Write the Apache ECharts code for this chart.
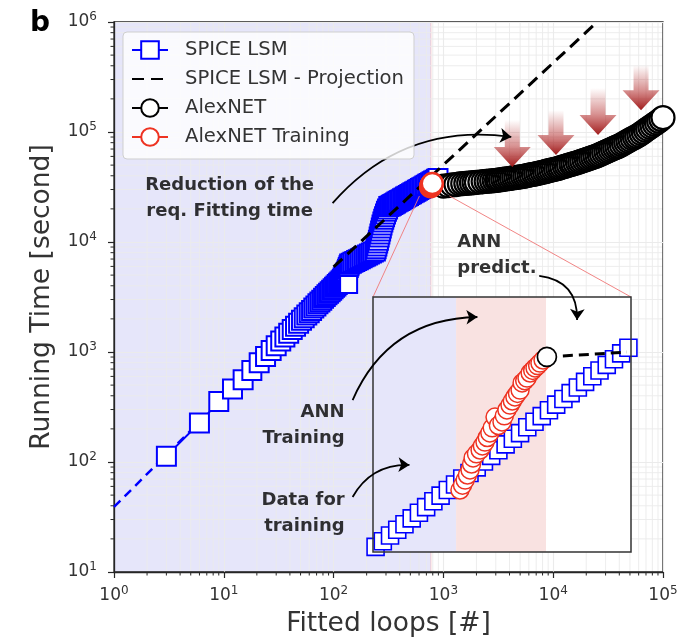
<!DOCTYPE html>
<html>
<head>
<meta charset="utf-8">
<script src="https://cdn.jsdelivr.net/npm/echarts@6/dist/echarts.min.js"></script>
<style>
  html, body { margin: 0; padding: 0; background: #ffffff; }
  #chart { width: 692px; height: 644px; }
</style>
</head>
<body>
<div id="chart"></div>
<script>
// ---------- axis ticks ----------
const xDecades = [1, 10, 100, 1000, 10000, 100000];
const yDecades = [10, 100, 1000, 10000, 100000, 1000000];
const minorSteps = [2, 3, 4, 5, 6, 7, 8, 9];

// ---------- SPICE LSM fitting runs (fitted loops, seconds) ----------
const spiceX = [3, 6, 9, 12, 15, 18, 21, 24, 27, 30, 33, 36, 39, 42, 45, 48, 51, 54, 57, 60,
  63, 66, 69, 72, 75, 78, 81, 84, 87, 90, 93, 96, 99, 102, 105, 108, 111, 114, 117, 120,
  122, 124, 126, 128, 130, 132, 134, 136, 138, 140,
  145, 150, 156, 162, 168, 175, 182, 189, 196, 204, 212, 221, 230, 240,
  244, 248, 252, 256, 260, 264, 268, 272, 276, 281, 286, 291, 297, 303, 310, 318,
  328, 337, 346, 356, 366, 377, 388, 400, 412, 425, 438, 452, 466, 481, 496, 512, 528,
  545, 562, 580, 598, 617, 636, 656, 677, 698, 720, 742, 765, 789, 814, 840, 866, 893];
const spiceY = [113, 226, 355, 460, 560, 680, 800, 910, 1030, 1140, 1260, 1370, 1480, 1600, 1710, 1830, 1940, 2050, 2170, 2280,
  2390, 2510, 2620, 2740, 2850, 2960, 3080, 3190, 3310, 3420, 3530, 3650, 3760, 3880, 3990, 4100, 4220, 4330, 4450, 4560,
  4700, 4800, 4950, 5100, 5270, 5450, 5650, 5850, 6070, 6300,
  6410, 6530, 6650, 6780, 6910, 7060, 7200, 7340, 7470, 7620, 7770, 7940, 8100, 8300,
  8700, 9200, 9800, 10400, 11100, 11800, 12600, 13400, 14300, 15200, 16100, 17000, 18000, 19000, 20000, 21000,
  21300, 21630, 21960, 22320, 22680, 23070, 23450, 23870, 24270, 24710, 25140, 25600, 26040, 26520, 27000, 27490, 27980,
  28490, 29000, 29530, 30050, 30590, 31130, 31680, 32250, 32830, 33420, 34000, 34600, 35220, 35850, 36500, 37150, 37800];
// low-range trend of the SPICE runs
const spiceLeadX = [1, 6];
const spiceLeadY = [39, 232];
// a repeated run finishing after the main sweep
const spiceLateX = [137];
const spiceLateY = [4100];

// ---------- SPICE LSM projection ----------
const projX = [100, 25100];
const projY = [5930, 1000000];

// ---------- AlexNET prediction ----------
const alexX = [1000, 1100, 1200, 1300, 1400, 1500, 1600, 1700, 1800, 1900, 2000, 2150, 2300, 2450, 2600, 2750, 2900, 3050,
  3160, 3310, 3470, 3630, 3800, 3980, 4170, 4370, 4570, 4790,
  5010, 5250, 5500, 5750, 6030, 6310, 6610, 6920, 7240, 7590,
  7940, 8320, 8710, 9120, 9550, 10000, 10500, 11000, 11500, 12000,
  12600, 13200, 13800, 14500, 15100, 15800, 16600, 17400, 18200, 19100,
  20000, 20900, 21900, 22900, 24000, 25100, 26300, 27500, 28800, 30200,
  31600, 33100, 34700, 36300, 38000, 39800, 41700, 43700, 45700, 47900,
  50100, 52500, 55000, 57500, 60300, 63100, 66100, 69200, 72400, 75900,
  79400, 83200, 87100, 91200, 95500, 100000];
const alexY = [32200, 32600, 33000, 33300, 33700, 33900, 34100, 34300, 34500, 34700, 34800, 35100, 35400, 35600, 35800, 36000, 36200, 36400,
  36600, 36800, 37100, 37300, 37600, 37800, 38100, 38400, 38600, 38900,
  39100, 39400, 39800, 40200, 40600, 40900, 41300, 41700, 42100, 42500,
  43000, 43500, 44000, 44500, 45000, 45500, 46000, 46600, 47200, 47900,
  48500, 49200, 49900, 50600, 51300, 52000, 52700, 53500, 54300, 55200,
  56100, 57000, 57900, 58900, 59800, 60800, 61900, 63200, 64600, 65900,
  67300, 68700, 70200, 71600, 73100, 74600, 76600, 78500, 80500, 82600,
  84700, 86900, 89100, 91400, 93800, 96800, 100000, 103300, 106700, 110200,
  113800, 117500, 121300, 125300, 130000, 134900];

// ---------- AlexNET training runs ----------
const trainX = [764, 768, 772, 776, 780, 784, 788, 792];
const trainY = [31800, 32100, 32400, 32700, 33000, 33300, 33600, 34000];

// ---------- shaded range of data used for training ----------
const trainingSpan = [1, 770];

// ---------- detail panel (relative units 0-100) ----------
const insetSpanEdges = [0, 32.2, 67.1, 100];
const insetSpanColors = ['#e6e6fa', '#f9e2e1', '#ffffff'];
const insetSpiceX = [1, 3.8, 6.6, 9.4, 12.2, 15, 17.8, 20.6, 23.4, 26.2, 29, 31.8, 34.6, 37.4, 40.2, 43, 45.8, 48.6,
  51.4, 54.2, 57, 59.8, 62.6, 65.4, 68.2, 71, 73.8, 76.6, 79.4, 82.2, 85, 87.8, 90.6, 93.4, 96.2, 99];
const insetSpiceY = [2.0, 4.2, 6.5, 8.7, 10.9, 13.2, 15.4, 17.6, 19.9, 22.1, 24.3, 26.5, 28.8, 31.0, 33.2, 35.5, 37.7, 39.9,
  42.2, 44.4, 46.6, 48.9, 51.1, 53.3, 55.6, 57.8, 60.0, 62.3, 64.5, 66.7, 68.9, 71.2, 73.4, 75.6, 77.9, 80.1];
const insetTrainX = [33.7, 34.7, 35.7, 36.6, 37.6, 38.2, 38.8, 40.1, 41.5, 42.4, 43.4, 44.3, 45.3, 46.2, 47.3, 48.6, 50.0,
  50.9, 51.9, 53.1, 54.0, 55.0, 56.0, 57.0, 57.8, 58.8, 59.7, 60.9, 61.9, 62.8, 63.8, 64.7, 65.9];
const insetTrainY = [24.3, 26.2, 28.2, 30.2, 32.2, 34.5, 36.9, 38.5, 40.0, 41.6, 43.1, 44.9, 46.7, 48.7, 52.9, 49.6, 51.0,
  53.4, 55.7, 57.6, 59.2, 60.8, 62.2, 63.5, 66.3, 67.2, 68.2, 70.2, 71.2, 72.2, 73.1, 74.1, 75.3];
const insetPredX = [67.4, 98.4];
const insetPredY = [76.5, 78.4];

// ---------- reduction markers (x, top of shaft, tip) ----------
const downArrowX = [4240, 10600, 25600, 63100];
const downArrowTop = [128500, 158000, 251000, 406000];
const downArrowTip = [48100, 61700, 93900, 158000];

// ---------- annotations (data coordinates) ----------
const noteText = ['Reduction of the\nreq. Fitting time', 'ANN\npredict.', 'ANN\nTraining', 'Data for\ntraining'];
const noteAt = [[11.3, 25100], [1340, 7530], [126, 217], [126, 34]];
const noteAlign = ['center', 'left', 'right', 'right'];
const arrowFrom = [[97.9, 22600], [7460, 4910], [149, 366], [149, 48.1]];
const arrowTo = [[4150, 90200], [16500, 1955], [2040, 2080], [491, 94]];
const arrowCurve = [0.27, 0.45, 0.32, 0.3];
// zoom connector: region around the training point and the panel's top corners
const zoomFrom = [[605, 26200], [1135, 26200]];
const zoomTo = [[0, 100], [100, 100]];

// ---------- styles ----------
const FONT = 'DejaVu Sans';
const BLUE = '#0000ff';
const RED = '#ee3322';
const AXIS = '#262626';
const GRID = '#ebebeb';
const LAVENDER = '#e6e6fa';
const TXT = '#333333';

const zip = (xs, ys) => xs.map((x, i) => [x, ys[i]]);

const minorData = [];
xDecades.slice(0, -1).forEach(d => minorSteps.forEach(m => minorData.push([d * m, 10, 0])));
yDecades.slice(0, -1).forEach(d => minorSteps.forEach(m => minorData.push([1, d * m, 1])));

const powLabel = v => '{m|10}{e|' + Math.round(Math.log10(v)) + '}';
const richPow = {
  m: { fontSize: 17, color: TXT, fontFamily: FONT },
  e: { fontSize: 12, color: TXT, fontFamily: FONT, padding: [0, 0, 10, 0] }
};

const chart = echarts.init(document.getElementById('chart'), null, { renderer: 'canvas' });

const option = {
  animation: false,
  backgroundColor: '#ffffff',
  title: {
    text: 'b', left: 25, top: 5,
    textStyle: { fontSize: 28, fontWeight: 'bold', color: '#000', fontFamily: FONT }
  },
  legend: {
    left: 123, top: 32, orient: 'vertical',
    itemWidth: 36, itemHeight: 22, itemGap: 9,
    padding: [8, 10, 12, 8],
    backgroundColor: 'rgba(255,255,255,0.8)',
    borderColor: '#cfcfcf', borderWidth: 1, borderRadius: 4,
    selectedMode: false,
    textStyle: { fontSize: 19.6, color: TXT, fontFamily: FONT, padding: [0, 0, 0, 12] },
    data: [
      'SPICE LSM',
      { name: 'SPICE LSM - Projection', itemStyle: { opacity: 0 } },
      'AlexNET',
      'AlexNET Training'
    ],
    z: 30
  },
  grid: [
    { left: 114, top: 22, width: 549, height: 550, show: true, borderColor: AXIS, borderWidth: 1.3, backgroundColor: 'transparent' },
    { left: 373, top: 297, width: 258, height: 255, show: false }
  ],
  xAxis: [
    {
      type: 'log', logBase: 10, min: 1, max: 100000, gridIndex: 0,
      axisLine: { show: true, lineStyle: { color: AXIS, width: 1.3 } },
      axisTick: { show: true, length: 6, lineStyle: { color: AXIS, width: 1.2 } },
      axisLabel: { formatter: powLabel, rich: richPow, margin: 13 },
      splitLine: { show: true, lineStyle: { color: GRID, width: 1.1 } },
      name: 'Fitted loops [#]', nameLocation: 'middle', nameGap: 39,
      nameTextStyle: { fontSize: 26.5, color: TXT, fontFamily: FONT }
    },
    { type: 'value', gridIndex: 1, min: 0, max: 100, show: false }
  ],
  yAxis: [
    {
      type: 'log', logBase: 10, min: 10, max: 1000000, gridIndex: 0,
      axisLine: { show: true, lineStyle: { color: AXIS, width: 1.3 } },
      axisTick: { show: true, length: 6, lineStyle: { color: AXIS, width: 1.2 } },
      axisLabel: { formatter: powLabel, rich: richPow, margin: 17 },
      splitLine: { show: true, lineStyle: { color: GRID, width: 1.1 } },
      name: 'Running Time [second]', nameLocation: 'middle', nameGap: 58,
      nameTextStyle: { fontSize: 26.5, color: TXT, fontFamily: FONT }
    },
    { type: 'value', gridIndex: 1, min: 0, max: 100, show: false }
  ],
  series: [
    // shaded training range
    {
      type: 'custom', name: 'training range', xAxisIndex: 0, yAxisIndex: 0, z: -5, silent: true,
      data: [[trainingSpan[0], trainingSpan[1]]],
      renderItem: (params, api) => {
        const cs = params.coordSys;
        const x0 = api.coord([api.value(0), 10])[0];
        const x1 = api.coord([api.value(1), 10])[0];
        return {
          type: 'group', children: [
            { type: 'rect', shape: { x: x0, y: cs.y, width: x1 - x0, height: cs.height }, style: { fill: LAVENDER } },
            { type: 'line', shape: { x1: x1, y1: cs.y, x2: x1, y2: cs.y + cs.height }, style: { stroke: 'rgba(240,150,150,0.45)', lineWidth: 1 } }
          ]
        };
      }
    },
    // minor grid lines and minor ticks
    {
      type: 'custom', name: 'minor grid', xAxisIndex: 0, yAxisIndex: 0, z: -4, silent: true,
      data: minorData,
      renderItem: (params, api) => {
        const cs = params.coordSys;
        if (api.value(2) === 0) {
          const x = api.coord([api.value(0), 10])[0];
          return {
            type: 'group', children: [
              { type: 'line', shape: { x1: x, y1: cs.y, x2: x, y2: cs.y + cs.height }, style: { stroke: GRID, lineWidth: 0.9 } },
              { type: 'line', shape: { x1: x, y1: cs.y + cs.height, x2: x, y2: cs.y + cs.height + 3.5 }, style: { stroke: AXIS, lineWidth: 1 } }
            ]
          };
        }
        const y = api.coord([1, api.value(1)])[1];
        return {
          type: 'group', children: [
            { type: 'line', shape: { x1: cs.x, y1: y, x2: cs.x + cs.width, y2: y }, style: { stroke: GRID, lineWidth: 0.9 } },
            { type: 'line', shape: { x1: cs.x - 3.5, y1: y, x2: cs.x, y2: y }, style: { stroke: AXIS, lineWidth: 1 } }
          ]
        };
      }
    },
    {
      type: 'line', name: 'SPICE LSM trend', xAxisIndex: 0, yAxisIndex: 0, z: 2,
      data: zip(spiceLeadX, spiceLeadY), symbol: 'none',
      lineStyle: { color: BLUE, width: 2.5, type: [9, 6] }
    },
    {
      type: 'line', name: 'SPICE LSM', xAxisIndex: 0, yAxisIndex: 0, z: 3,
      data: zip(spiceX, spiceY), symbol: 'rect', symbolSize: 19, showAllSymbol: true,
      itemStyle: { color: '#ffffff', borderColor: BLUE, borderWidth: 2 },
      lineStyle: { color: BLUE, width: 2 }
    },
    {
      type: 'line', name: 'SPICE LSM', xAxisIndex: 0, yAxisIndex: 0, z: 3,
      data: zip(spiceLateX, spiceLateY), symbol: 'rect', symbolSize: 17,
      itemStyle: { color: '#ffffff', borderColor: BLUE, borderWidth: 2 },
      lineStyle: { color: BLUE, width: 2 }
    },
    {
      type: 'line', name: 'SPICE LSM - Projection', xAxisIndex: 0, yAxisIndex: 0, z: 4,
      data: zip(projX, projY), symbol: 'none',
      itemStyle: { color: '#000000' },
      lineStyle: { color: '#000000', width: 3, type: [12, 7] }
    },
    {
      type: 'line', name: 'AlexNET', xAxisIndex: 0, yAxisIndex: 0, z: 5,
      data: zip(alexX, alexY), symbol: 'circle', symbolSize: 23, showAllSymbol: true,
      itemStyle: { color: '#ffffff', borderColor: '#000000', borderWidth: 2.2 },
      lineStyle: { color: '#000000', width: 2 }
    },
    {
      type: 'line', name: 'AlexNET Training', xAxisIndex: 0, yAxisIndex: 0, z: 6,
      data: zip(trainX, trainY), symbol: 'circle', symbolSize: 21, showAllSymbol: true,
      itemStyle: { color: '#ffffff', borderColor: RED, borderWidth: 2.4 },
      lineStyle: { color: RED, width: 2 }
    },
    // reduction markers
    {
      type: 'custom', name: 'reduction', xAxisIndex: 0, yAxisIndex: 0, z: 7, silent: true,
      data: downArrowX.map((x, i) => [x, downArrowTop[i], downArrowTip[i]]),
      encode: { x: 0, y: [1, 2] },
      renderItem: (params, api) => {
        const top = api.coord([api.value(0), api.value(1)]);
        const tip = api.coord([api.value(0), api.value(2)]);
        const cx = top[0], hw = 7.5, hh = 18.5, hl = 20;
        const base = tip[1] - hl;
        return {
          type: 'polygon',
          shape: { points: [[cx - hw, top[1]], [cx + hw, top[1]], [cx + hw, base], [cx + hh, base], [cx, tip[1]], [cx - hh, base], [cx - hw, base]] },
          style: {
            fill: new echarts.graphic.LinearGradient(0, 0, 0, 1, [
              { offset: 0, color: 'rgba(178,40,40,0)' },
              { offset: 0.55, color: 'rgba(178,40,40,0.5)' },
              { offset: 1, color: 'rgba(160,28,28,1)' }
            ])
          }
        };
      }
    },
    // detail panel background
    {
      type: 'custom', name: 'detail background', xAxisIndex: 1, yAxisIndex: 1, z: 10, silent: true,
      data: insetSpanColors.map((c, i) => [insetSpanEdges[i], insetSpanEdges[i + 1], i]),
      renderItem: (params, api) => {
        const cs = params.coordSys;
        const x0 = api.coord([api.value(0), 0])[0];
        const x1 = api.coord([api.value(1), 0])[0];
        return { type: 'rect', shape: { x: x0, y: cs.y, width: x1 - x0, height: cs.height }, style: { fill: insetSpanColors[api.value(2)] } };
      }
    },
    {
      type: 'line', name: 'SPICE LSM detail', xAxisIndex: 1, yAxisIndex: 1, z: 11,
      data: zip(insetSpiceX, insetSpiceY), symbol: 'rect', symbolSize: 17, showAllSymbol: true,
      itemStyle: { color: '#ffffff', borderColor: BLUE, borderWidth: 1.6 },
      lineStyle: { color: BLUE, width: 1.5 }
    },
    {
      type: 'line', name: 'AlexNET Training detail', xAxisIndex: 1, yAxisIndex: 1, z: 12,
      data: zip(insetTrainX, insetTrainY), symbol: 'circle', symbolSize: 18, showAllSymbol: true,
      itemStyle: { color: '#ffffff', borderColor: RED, borderWidth: 1.5 },
      lineStyle: { color: RED, width: 1.5 }
    },
    {
      type: 'line', name: 'AlexNET detail', xAxisIndex: 1, yAxisIndex: 1, z: 13,
      data: [
        { value: [insetPredX[0], insetPredY[0]], symbol: 'circle' },
        { value: [insetPredX[1], insetPredY[1]], symbol: 'none' }
      ],
      symbolSize: 19,
      itemStyle: { color: '#ffffff', borderColor: '#000000', borderWidth: 1.7 },
      lineStyle: { color: '#000000', width: 3, type: [10, 6] }
    },
    {
      type: 'custom', name: 'detail frame', xAxisIndex: 1, yAxisIndex: 1, z: 14, silent: true,
      data: [[0, 0]],
      renderItem: (params) => {
        const cs = params.coordSys;
        return { type: 'rect', shape: { x: cs.x, y: cs.y, width: cs.width, height: cs.height }, style: { fill: 'none', stroke: '#333333', lineWidth: 1.5 } };
      }
    },
    // annotation arrows
    {
      type: 'lines', name: 'annotation arrows', coordinateSystem: 'cartesian2d', xAxisIndex: 0, yAxisIndex: 0, z: 20,
      silent: true, symbol: ['none', 'arrow'], symbolSize: 11,
      lineStyle: { color: '#000000', width: 1.8, opacity: 1 },
      data: arrowFrom.map((p, i) => ({ coords: [p, arrowTo[i]], lineStyle: { curveness: arrowCurve[i] } }))
    },
    // annotation text
    {
      type: 'scatter', name: 'annotation text', xAxisIndex: 0, yAxisIndex: 0, z: 20, silent: true,
      symbolSize: 0,
      data: noteText.map((t, i) => ({
        value: noteAt[i], name: t,
        label: { show: true, position: 'inside', align: noteAlign[i], formatter: t, color: '#000000' }
      })),
      label: { show: true, fontSize: 18, fontWeight: 'bold', lineHeight: 26, color: '#000000', fontFamily: FONT }
    }
  ]
};

chart.setOption(option);

// zoom connector lines from the training point to the detail panel
const connectors = zoomFrom.map((p, i) => {
  const a = chart.convertToPixel({ gridIndex: 0 }, p);
  const b = chart.convertToPixel({ gridIndex: 1 }, zoomTo[i]);
  return {
    type: 'line', z: 9, silent: true,
    shape: { x1: a[0], y1: a[1], x2: b[0], y2: b[1] },
    style: { stroke: 'rgba(240,120,120,0.9)', lineWidth: 1 }
  };
});
chart.setOption({ graphic: { elements: connectors } });
</script>
</body>
</html>
